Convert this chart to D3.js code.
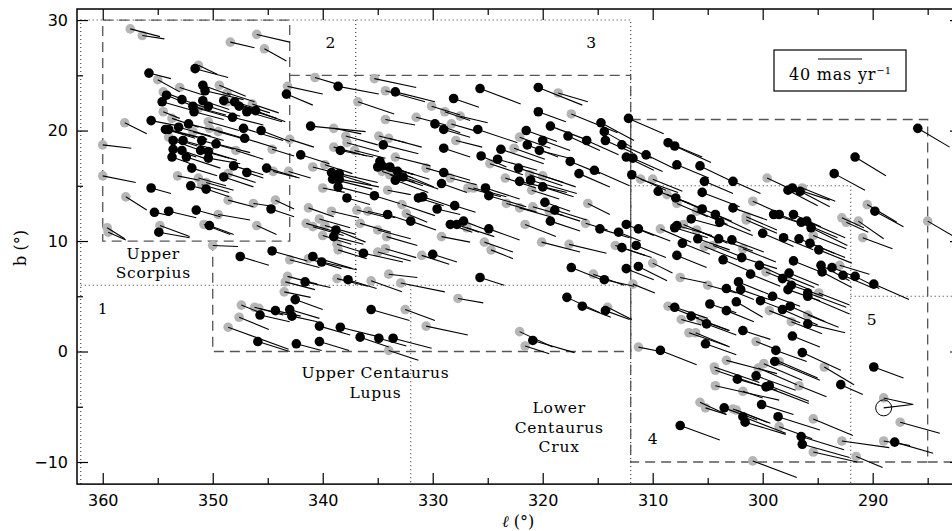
<!DOCTYPE html>
<html>
<head>
<meta charset="utf-8">
<script src="https://cdn.jsdelivr.net/npm/d3@7"></script>
<style>
  body { margin: 0; background: #fff; }
  svg { display: block; }
</style>
</head>
<body>
<div id="chart"></div>
<script>
// star rows: [l (deg), b (deg), mu_l (mas/yr), mu_b (mas/yr)]
const blackStars = [
  [347.5, 8.6, -26, -8], [344.6, 9.1, -32, -9], [345.7, 3.3, -27, -6], [344.3, 3.7, -23, -5],
  [343.0, 3.8, -27, -8], [342.8, 3.2, -23, -5], [342.5, 4.7, -25, -9], [345.9, 0.9, -29, -9],
  [342.4, 0.7, -23, -6],
  [355.8, 25.2, -20, -5], [351.6, 25.6, -30, -8], [350.9, 24.1, -25, -9], [350.7, 23.6, -35, -8],
  [354.2, 23.2, -27, -11], [352.8, 22.8, -26, -9], [354.6, 22.6, -32, -9], [350.9, 22.7, -24, -8],
  [351.8, 22.2, -30, -8], [351.7, 21.7, -27, -7], [350.4, 22.2, -29, -9], [349.0, 22.7, -30, -8],
  [348.0, 22.6, -32, -10], [347.6, 22.2, -34, -11], [346.9, 21.7, -32, -9], [346.1, 21.8, -27, -10],
  [348.2, 21.2, -28, -7], [347.2, 20.2, -36, -11], [345.6, 20.0, -26, -10], [347.1, 19.3, -29, -9],
  [355.6, 20.9, -26, -5], [354.3, 20.1, -29, -7], [354.0, 20.1, -35, -9], [353.1, 20.3, -29, -8],
  [352.2, 20.6, -32, -8], [351.0, 19.1, -29, -8], [349.7, 18.8, -31, -8], [353.6, 19.1, -22, -8],
  [352.7, 19.1, -28, -8], [353.6, 18.3, -21, -7], [352.8, 18.2, -26, -9], [351.1, 18.2, -26, -7],
  [350.4, 18.1, -26, -8], [353.7, 17.6, -17, -6], [352.4, 17.6, -31, -10], [350.4, 17.5, -29, -5],
  [351.9, 16.6, -23, -7], [348.1, 16.8, -27, -8], [349.0, 15.8, -27, -9], [346.9, 16.2, -15, -5],
  [345.1, 16.6, -27, -8], [352.0, 15.0, -17, -4], [350.6, 14.7, -21, -7], [355.6, 14.8, -18, -5],
  [344.7, 12.9, -21, -7], [355.3, 12.6, -14, -3], [354.0, 12.7, -25, -6], [351.5, 12.8, -22, -6],
  [354.9, 10.8, -28, -5], [350.3, 11.4, -22, -8], [343.3, 23.3, -24, -10],
  [338.6, 24.0, -37, -7], [333.4, 23.5, -36, -9], [328.1, 22.9, -23, -8], [341.1, 20.4, -50, -5],
  [329.8, 20.6, -23, -8], [329.0, 20.1, -24, -7], [334.5, 18.7, -32, -8], [338.4, 18.2, -30, -6],
  [342.0, 17.8, -26, -8], [329.0, 18.4, -24, -8], [334.8, 17.2, -30, -12], [335.0, 16.7, -32, -10],
  [334.6, 16.8, -30, -8], [333.9, 16.7, -36, -11], [333.2, 16.3, -33, -14], [332.7, 15.8, -32, -11],
  [333.4, 15.5, -30, -11], [329.0, 16.2, -24, -7], [329.2, 15.2, -23, -8], [339.2, 16.2, -36, -11],
  [338.5, 16.1, -35, -8], [339.1, 15.6, -36, -9], [338.5, 15.6, -36, -7], [338.6, 14.9, -32, -8],
  [337.8, 13.9, -21, -6], [335.3, 14.1, -23, -7], [331.3, 13.9, -23, -7], [330.9, 14.0, -27, -9],
  [329.6, 12.9, -21, -5], [328.0, 13.2, -19, -6], [334.1, 12.4, -24, -8], [332.0, 11.8, -23, -8],
  [328.4, 11.5, -20, -7], [327.8, 11.5, -20, -7], [338.8, 11.0, -27, -11], [339.0, 10.4, -27, -7],
  [325.7, 23.8, -37, -14], [320.4, 23.9, -40, -16], [320.4, 21.7, -25, -9], [314.7, 20.7, -30, -16],
  [312.2, 21.1, -32, -14], [314.4, 19.9, -25, -14], [314.3, 19.1, -25, -11], [319.3, 20.4, -32, -12],
  [317.7, 19.5, -29, -13], [316.0, 19.1, -29, -13], [312.8, 18.7, -27, -12], [325.9, 20.1, -36, -12],
  [321.5, 20.0, -28, -10], [320.0, 19.1, -25, -9], [321.4, 18.7, -28, -11], [320.3, 18.2, -31, -8],
  [317.5, 17.2, -27, -11], [315.3, 16.4, -32, -14], [316.7, 16.1, -28, -12], [323.8, 18.3, -39, -13],
  [325.6, 17.7, -23, -10], [324.1, 17.4, -36, -10], [322.2, 16.6, -41, -13], [322.1, 15.4, -43, -10],
  [321.1, 15.5, -42, -12], [320.0, 14.9, -28, -9], [325.2, 14.8, -31, -10], [324.9, 14.1, -34, -10],
  [319.8, 13.5, -23, -8], [318.9, 12.8, -29, -9], [319.3, 11.8, -27, -9], [314.8, 11.1, -27, -8],
  [313.1, 10.8, -20, -8], [312.4, 11.5, -25, -10], [324.9, 11.1, -28, -10], [327.2, 11.8, -21, -8],
  [312.8, 9.4, -27, -9], [312.4, 17.6, -25, -12],
  [308.6, 18.9, -31, -13], [308.0, 18.6, -33, -15], [310.6, 17.8, -27, -13], [311.8, 17.5, -27, -12],
  [307.8, 16.9, -29, -12], [305.7, 16.8, -27, -13], [311.9, 16.0, -31, -14], [305.3, 15.4, -26, -11],
  [302.7, 15.4, -25, -11], [297.7, 14.6, -27, -14], [309.5, 14.5, -29, -11], [305.5, 14.4, -34, -13],
  [307.9, 13.9, -28, -12], [302.7, 13.0, -31, -11], [305.5, 12.9, -27, -11], [306.5, 12.0, -26, -7],
  [304.3, 12.4, -32, -15], [303.9, 11.7, -30, -12], [299.0, 12.4, -25, -8], [298.5, 12.4, -23, -9],
  [308.0, 11.2, -30, -9], [307.8, 11.4, -32, -9], [311.3, 11.1, -29, -11], [305.9, 10.2, -29, -10],
  [304.0, 10.2, -31, -11], [302.8, 10.1, -29, -11], [307.3, 9.8, -25, -10], [300.0, 10.7, -28, -12],
  [298.1, 10.3, -27, -11], [311.5, 9.6, -27, -11], [307.8, 8.7, -27, -11], [311.3, 7.7, -26, -13],
  [303.6, 8.3, -28, -12], [301.9, 8.5, -32, -10], [300.3, 7.8, -24, -11], [301.1, 7.0, -27, -11],
  [302.2, 6.3, -27, -11], [298.2, 6.6, -25, -10], [297.6, 7.1, -27, -11],
  [291.6, 17.6, -28, -17], [293.5, 16.1, -28, -15], [297.3, 14.8, -34, -11], [296.6, 14.5, -27, -14],
  [289.8, 12.7, -26, -14], [297.2, 12.4, -25, -11], [296.5, 11.7, -33, -14], [296.0, 11.8, -35, -15],
  [295.6, 11.2, -33, -16], [296.7, 10.2, -32, -13], [295.7, 9.8, -32, -13], [294.9, 9.2, -30, -12],
  [297.2, 8.2, -30, -12], [294.7, 7.8, -26, -14], [294.6, 7.2, -27, -14], [293.7, 7.6, -25, -10],
  [292.7, 6.9, -26, -11], [291.6, 6.8, -22, -11], [289.9, 6.1, -32, -14], [285.9, 20.2, -29, -17],
  [303.3, 5.7, -25, -10], [302.0, 5.6, -26, -9], [300.2, 4.6, -21, -8], [299.1, 5.0, -25, -9],
  [297.7, 5.6, -29, -10], [297.4, 6.0, -29, -10], [295.9, 5.0, -38, -16], [295.9, 5.3, -35, -13],
  [298.2, 3.8, -32, -14], [297.5, 4.1, -32, -14], [302.4, 4.5, -24, -14], [304.8, 4.3, -24, -8],
  [303.3, 3.7, -25, -10], [308.0, 4.0, -30, -10], [306.5, 3.2, -35, -13], [305.1, 2.5, -27, -10],
  [301.8, 1.9, -25, -8], [297.3, 1.4, -25, -10], [295.9, 2.5, -34, -8], [305.2, 0.7, -28, -10],
  [309.3, 0.1, -33, -13], [298.8, 0.1, -28, -10], [296.4, -0.1, -35, -16], [292.9, -3.0, -20, -9],
  [298.9, -0.9, -41, -17], [300.6, -2.2, -36, -13], [302.3, -2.5, -36, -10], [299.7, -3.2, -39, -15],
  [299.4, -3.1, -36, -14], [303.5, -5.1, -30, -11], [300.1, -4.8, -29, -9], [298.6, -5.9, -38, -12],
  [301.8, -5.9, -39, -15], [301.6, -6.4, -37, -11], [307.5, -6.7, -36, -13], [296.5, -7.7, -39, -12],
  [296.4, -8.4, -43, -12], [289.9, -1.4, -27, -10], [288.0, -8.2, -35, -10],
  [340.9, 8.6, -36, -11], [340.1, 8.1, -32, -7], [336.3, 8.9, -36, -8], [330.0, 8.8, -22, -7],
  [341.6, 6.3, -23, -5], [337.7, 6.5, -26, -8], [325.7, 6.7, -22, -7], [335.6, 3.8, -35, -10],
  [340.3, 2.3, -28, -8], [338.4, 2.2, -36, -9], [336.6, 1.3, -26, -9], [334.9, 1.2, -25, -7],
  [333.6, 1.2, -35, -9], [340.3, 0.9, -27, -8], [320.9, 1.0, -38, -11], [317.4, 7.6, -30, -12],
  [314.4, 6.5, -27, -6], [317.8, 4.9, -30, -14], [316.4, 4.1, -26, -10], [314.3, 3.7, -22, -8],
  [312.4, 7.5, -25, -10]
];

const grayStars = [
  [357.5, 29.2, -27, -7], [356.4, 28.6, -20, -3], [348.4, 28.0, -22, -5], [346.0, 28.7, -30, -7],
  [345.3, 27.4, -20, -11], [360.0, 18.7, -26, -3], [358.0, 20.7, -20, -10], [360.0, 15.9, -30, -6],
  [357.9, 14.0, -19, -12], [359.6, 11.2, -16, -10], [359.5, 10.8, -16, -7], [350.0, 9.6, -23, -1],
  [343.0, 8.3, -27, -7], [343.2, 6.8, -27, -7], [343.4, 6.3, -27, -7], [343.5, 5.4, -24, -5],
  [347.4, 4.2, -20, -8], [346.2, 4.0, -26, -7], [345.8, 3.9, -27, -6], [347.6, 3.1, -27, -11],
  [348.6, 2.2, -55, -20],
  [351.3, 25.9, -17, -8], [355.0, 24.6, -20, -11], [349.4, 24.1, -24, -10], [353.0, 23.9, -22, -7],
  [354.5, 23.5, -21, -8], [346.4, 22.4, -24, -8], [348.7, 23.4, -25, -8], [354.5, 21.7, -15, -6],
  [353.7, 21.1, -24, -8], [351.8, 19.9, -28, -8], [350.4, 20.8, -28, -8], [350.3, 20.2, -28, -8],
  [349.5, 19.9, -28, -8], [344.5, 16.3, -24, -6], [343.1, 16.3, -20, -6], [353.2, 15.9, -20, -4],
  [351.3, 15.7, -25, -7], [351.0, 15.1, -25, -7], [348.6, 13.7, -23, -6], [346.3, 13.4, -20, -3],
  [344.3, 13.7, -17, -8], [349.5, 12.4, -29, -5], [354.8, 11.4, -27, -10], [350.8, 11.5, -24, -9],
  [346.0, 11.4, -18, -8], [343.2, 24.0, -32, -7], [343.0, 19.2, -22, -7], [344.6, 18.3, -20, -6],
  [347.9, 18.2, -25, -8], [354.2, 20.1, -26, -8], [354.0, 19.4, -26, -8], [351.3, 22.0, -28, -8],
  [348.7, 22.6, -28, -8], [348.6, 16.1, -25, -8], [350.6, 15.3, -25, -7],
  [340.7, 24.8, -20, -6], [335.3, 24.7, -38, -8], [334.3, 23.6, -36, -10], [336.8, 22.6, -33, -11],
  [330.1, 22.2, -26, -8], [328.9, 21.7, -23, -8], [339.0, 20.2, -25, -5], [334.3, 21.0, -27, -5],
  [331.5, 21.2, -27, -7], [328.3, 20.6, -24, -7], [337.9, 19.5, -29, -8], [337.8, 18.9, -29, -8],
  [334.9, 19.5, -25, -6], [334.0, 19.3, -30, -8], [339.0, 18.5, -30, -8], [337.1, 18.2, -28, -7],
  [333.4, 17.6, -32, -8], [327.9, 19.1, -24, -6], [334.6, 16.3, -30, -10], [333.9, 16.0, -30, -10],
  [330.6, 16.6, -21, -6], [328.4, 15.7, -24, -6], [340.9, 16.7, -19, -5], [339.8, 16.9, -25, -8],
  [340.0, 14.8, -20, -4], [334.1, 14.6, -21, -4], [332.8, 13.3, -30, -10], [332.4, 12.5, -19, -8],
  [329.2, 10.4, -26, -5], [341.3, 13.0, -23, -8], [339.2, 12.7, -25, -6], [336.9, 12.8, -25, -6],
  [335.9, 12.7, -25, -6], [341.5, 11.6, -28, -8], [340.3, 12.0, -28, -8], [339.8, 11.4, -28, -8],
  [340.9, 11.3, -28, -8], [340.0, 10.5, -26, -8], [338.7, 9.7, -26, -8], [338.6, 9.2, -26, -8],
  [336.6, 11.6, -28, -8], [335.0, 11.0, -30, -8], [334.2, 10.4, -28, -8], [334.3, 9.3, -28, -8],
  [318.6, 23.4, -27, -8], [317.4, 21.5, -42, -17], [322.1, 19.4, -28, -10], [322.6, 18.4, -28, -10],
  [324.8, 17.0, -30, -10], [323.4, 15.7, -28, -9], [321.2, 16.0, -30, -10], [320.0, 15.9, -30, -10],
  [321.0, 14.6, -25, -8], [326.8, 14.8, -30, -8], [326.3, 14.8, -30, -8], [319.4, 12.7, -28, -9],
  [323.3, 13.4, -28, -8], [322.1, 13.0, -28, -8], [320.9, 13.1, -28, -8], [315.9, 13.4, -20, -10],
  [316.1, 11.6, -20, -6], [321.6, 11.5, -28, -11], [326.9, 11.2, -25, -8], [325.3, 9.9, -26, -9],
  [324.7, 9.2, -20, -8], [320.1, 9.9, -35, -9], [317.6, 9.7, -34, -8], [313.4, 9.6, -27, -9],
  [327.5, 21.3, -25, -6],
  [311.1, 15.6, -34, -12], [310.0, 15.6, -27, -11], [299.6, 15.7, -30, -14], [308.7, 14.2, -30, -12],
  [307.8, 13.4, -28, -12], [300.9, 13.6, -25, -11], [306.0, 12.7, -28, -12], [306.0, 11.0, -28, -12],
  [307.2, 11.5, -28, -12], [309.3, 11.1, -28, -12], [301.5, 12.2, -28, -12], [301.5, 11.9, -28, -12],
  [305.3, 9.5, -30, -12], [304.5, 9.6, -30, -12], [301.8, 9.3, -30, -12], [310.0, 8.0, -18, -9],
  [299.7, 7.2, -25, -10], [307.5, 6.7, -24, -5], [311.8, 6.1, -20, -8], [297.8, 6.8, -25, -10],
  [296.4, 14.8, -30, -12], [290.5, 13.3, -27, -16], [292.8, 12.1, -20, -9], [292.4, 11.7, -20, -9],
  [291.3, 11.8, -23, -16], [290.9, 10.3, -27, -10], [285.0, 11.8, -24, -14], [295.4, 10.5, -30, -12],
  [293.0, 7.8, -27, -8],
  [305.0, 6.0, -26, -7], [294.9, 5.3, -28, -11], [295.9, 3.3, -28, -11], [297.4, 2.7, -28, -11],
  [299.4, 3.7, -28, -11], [308.6, 4.1, -28, -11], [307.4, 2.9, -18, -5], [305.6, 2.8, -25, -9],
  [300.6, 0.9, -21, -8], [306.7, 1.7, -35, -12], [306.1, 1.7, -31, -13], [311.3, 0.4, -20, -4],
  [294.4, -1.4, -27, -16], [299.9, -1.1, -35, -15], [300.4, -1.5, -35, -15], [298.5, -0.9, -35, -15],
  [303.3, -0.8, -46, -12], [304.4, -1.4, -41, -14], [304.3, -1.7, -41, -14], [296.7, -3.1, -25, -10],
  [304.3, -3.1, -58, -13], [301.8, -3.6, -18, -6], [305.7, -4.6, -24, -11], [305.2, -5.1, -19, -6],
  [302.7, -5.2, -31, -12], [302.4, -5.3, -31, -12], [298.5, -6.8, -30, -11], [295.4, -6.1, -36, -15],
  [295.4, -9.1, -40, -9], [292.8, -8.1, -43, -6], [300.9, -9.9, -40, -15], [291.5, -9.5, -24, -10],
  [287.5, -6.4, -36, -10], [289.0, -8.1, -24, -4], [289.0, -4.2, -27, -6],
  [341.3, 8.4, -30, -9], [335.0, 9.0, -30, -8], [331.0, 8.7, -25, -8], [338.7, 6.6, -28, -7],
  [335.6, 6.4, -28, -10], [334.0, 7.0, -26, -3], [332.9, 6.2, -40, -8], [327.7, 4.8, -23, -4],
  [332.5, 3.8, -27, -10], [330.6, 2.3, -38, -8], [334.0, 0.1, -27, -9], [322.1, 1.8, -30, -14],
  [321.6, 0.5, -22, -7], [315.4, 7.0, -28, -10], [314.1, 4.0, -22, -11]
];

const openStars = [[289.0, -5.1, -26, 3]];

// subgroup outlines (dashed) and subregion borders (dotted), in [l, b]
const groupBoxes = [
  [[360, 30], [343, 30], [343, 10], [360, 10], [360, 30]],
  [[343, 25], [312, 25], [312, 0], [350, 0], [350, 10]],
  [[312, 21], [285, 21], [285, -10], [312, -10], [312, 21]],
  [[285, -10], [281.97, -10]]
];
const regionLines = [
  [[362, -12], [362, 30], [312, 30], [312, -12]],
  [[337, 30], [337, 6]],
  [[362, 6], [312, 6]],
  [[332, 6], [332, -12]],
  [[312, 15], [292, 15], [292, -12]],
  [[292, 5], [281.97, 5]]
];
const groupNames = [
  { lines: ["Upper", "Scorpius"], l: 355.4, b: 8.4 },
  { lines: ["Upper Centaurus", "Lupus"], l: 335.2, b: -2.4 },
  { lines: ["Lower", "Centaurus", "Crux"], l: 318.5, b: -5.6 }
];
const regionNums = [
  { t: "1", l: 360.0, b: 3.4 }, { t: "2", l: 339.3, b: 27.5 }, { t: "3", l: 315.6, b: 27.5 },
  { t: "4", l: 310.0, b: -8.4 }, { t: "5", l: 290.1, b: 2.4 }
];
const xMajor = [290, 300, 310, 320, 330, 340, 350, 360];
const xMinor = [285, 295, 305, 315, 325, 335, 345, 355];
const yMajor = [-10, 0, 10, 20, 30];
const yMinor = [-5, 5, 15, 25];
const scaleMas = 40;

const width = 952, height = 531;
const degPerMas = 0.1; // 40 mas/yr drawn as 4 deg
const x = d3.scaleLinear().domain([362.34, 281.97]).range([77, 961]);
const y = d3.scaleLinear().domain([-12, 31]).range([484.1, 9]);

const svg = d3.select("#chart").append("svg")
  .attr("width", width).attr("height", height)
  .attr("viewBox", [0, 0, width, height]);

svg.append("clipPath").attr("id", "plot")
  .append("rect").attr("x", 77).attr("y", 9).attr("width", 884).attr("height", 475.1);

const line = d3.line().x(d => x(d[0])).y(d => y(d[1]));

// region borders
svg.append("g")
  .selectAll("path").data(regionLines).join("path")
  .attr("d", line)
  .attr("fill", "none").attr("stroke", "#333").attr("stroke-width", 1.1)
  .attr("stroke-dasharray", "1,3");

svg.append("g")
  .selectAll("path").data(groupBoxes).join("path")
  .attr("d", line)
  .attr("fill", "none").attr("stroke", "#555").attr("stroke-width", 1.3)
  .attr("stroke-dasharray", "10,6");

// stars
const stars = svg.append("g").attr("clip-path", "url(#plot)");
const allStars = grayStars.concat(blackStars, openStars);

stars.append("g")
  .selectAll("circle").data(grayStars).join("circle")
  .attr("cx", d => x(d[0])).attr("cy", d => y(d[1])).attr("r", 4.8)
  .attr("fill", "#b5b5b5");

stars.append("g")
  .selectAll("line").data(allStars).join("line")
  .attr("x1", d => x(d[0])).attr("y1", d => y(d[1]))
  .attr("x2", d => x(d[0] + d[2] * degPerMas)).attr("y2", d => y(d[1] + d[3] * degPerMas))
  .attr("stroke", "#000").attr("stroke-width", 1.1);

stars.append("g")
  .selectAll("circle").data(blackStars).join("circle")
  .attr("cx", d => x(d[0])).attr("cy", d => y(d[1])).attr("r", 4.8)
  .attr("fill", "#000");

stars.append("g")
  .selectAll("circle").data(openStars).join("circle")
  .attr("cx", d => x(d[0])).attr("cy", d => y(d[1])).attr("r", 8)
  .attr("fill", "none").attr("stroke", "#000").attr("stroke-width", 1);

// axes, ticks point inward
function styleAxis(g) {
  g.select(".domain").remove();
  g.selectAll("line").attr("stroke", "#000").attr("stroke-width", 1.2);
  g.selectAll("text").attr("font-family", "DejaVu Sans, sans-serif").attr("font-size", 16).attr("fill", "#000");
}
svg.append("g").attr("transform", "translate(0,484.1)")
  .call(d3.axisBottom(x).tickValues(xMajor).tickSize(-11).tickPadding(11).tickFormat(d3.format("d")))
  .call(styleAxis);
svg.append("g").attr("transform", "translate(0,484.1)")
  .call(d3.axisBottom(x).tickValues(xMinor).tickSize(-6).tickFormat(""))
  .call(styleAxis);
svg.append("g").attr("transform", "translate(0,9)")
  .call(d3.axisTop(x).tickValues(xMajor).tickSize(-11).tickFormat(""))
  .call(styleAxis);
svg.append("g").attr("transform", "translate(0,9)")
  .call(d3.axisTop(x).tickValues(xMinor).tickSize(-6).tickFormat(""))
  .call(styleAxis);
svg.append("g").attr("transform", "translate(77,0)")
  .call(d3.axisLeft(y).tickValues(yMajor).tickSize(-11).tickPadding(9).tickFormat(d3.format("d")))
  .call(styleAxis);
svg.append("g").attr("transform", "translate(77,0)")
  .call(d3.axisLeft(y).tickValues(yMinor).tickSize(-6).tickFormat(""))
  .call(styleAxis);
svg.append("g").attr("transform", "translate(961,0)")
  .call(d3.axisRight(y).tickValues(yMajor).tickSize(-11).tickFormat(""))
  .call(styleAxis);
svg.append("g").attr("transform", "translate(961,0)")
  .call(d3.axisRight(y).tickValues(yMinor).tickSize(-6).tickFormat(""))
  .call(styleAxis);

svg.append("rect")
  .attr("x", 77).attr("y", 9).attr("width", 884).attr("height", 475.1)
  .attr("fill", "none").attr("stroke", "#000").attr("stroke-width", 1.5);

// labels
const serif = "DejaVu Serif, serif";
groupNames.forEach(g => {
  const t = svg.append("text")
    .attr("x", x(g.l)).attr("y", y(g.b))
    .attr("text-anchor", "middle").attr("font-family", serif)
    .attr("font-size", 15.5).attr("letter-spacing", 0.8);
  g.lines.forEach((s, i) => t.append("tspan").attr("x", x(g.l)).attr("dy", i ? 19.5 : 0).text(s));
});

svg.append("g").selectAll("text").data(regionNums).join("text")
  .attr("x", d => x(d.l)).attr("y", d => y(d.b))
  .attr("text-anchor", "middle").attr("font-family", serif).attr("font-size", 15.5)
  .text(d => d.t);

// scale legend
const legX = 774, legY = 50;
svg.append("rect").attr("x", legX).attr("y", legY).attr("width", 132).attr("height", 41)
  .attr("fill", "#fff").attr("stroke", "#000").attr("stroke-width", 1.2);
const legLen = x(360 - scaleMas * degPerMas) - x(360);
svg.append("line")
  .attr("x1", 840 - legLen / 2).attr("x2", 840 + legLen / 2)
  .attr("y1", legY + 9).attr("y2", legY + 9)
  .attr("stroke", "#000").attr("stroke-width", 1.1);
const legText = svg.append("text").attr("x", 840).attr("y", legY + 30)
  .attr("text-anchor", "middle").attr("font-family", serif).attr("font-size", 16)
  .attr("letter-spacing", 0.8);
legText.append("tspan").text(scaleMas + " mas yr");
legText.append("tspan").attr("dy", -6).attr("font-size", 10).attr("letter-spacing", 0).text("−1");

// axis titles
svg.append("text")
  .attr("transform", "translate(26,248) rotate(-90)")
  .attr("text-anchor", "middle").attr("font-family", serif).attr("font-size", 16)
  .text("b (°)");
svg.append("text")
  .attr("x", 518).attr("y", 527)
  .attr("text-anchor", "middle").attr("font-family", serif).attr("font-size", 16)
  .html('<tspan font-style="italic">ℓ</tspan> (°)');
</script>
</body>
</html>
